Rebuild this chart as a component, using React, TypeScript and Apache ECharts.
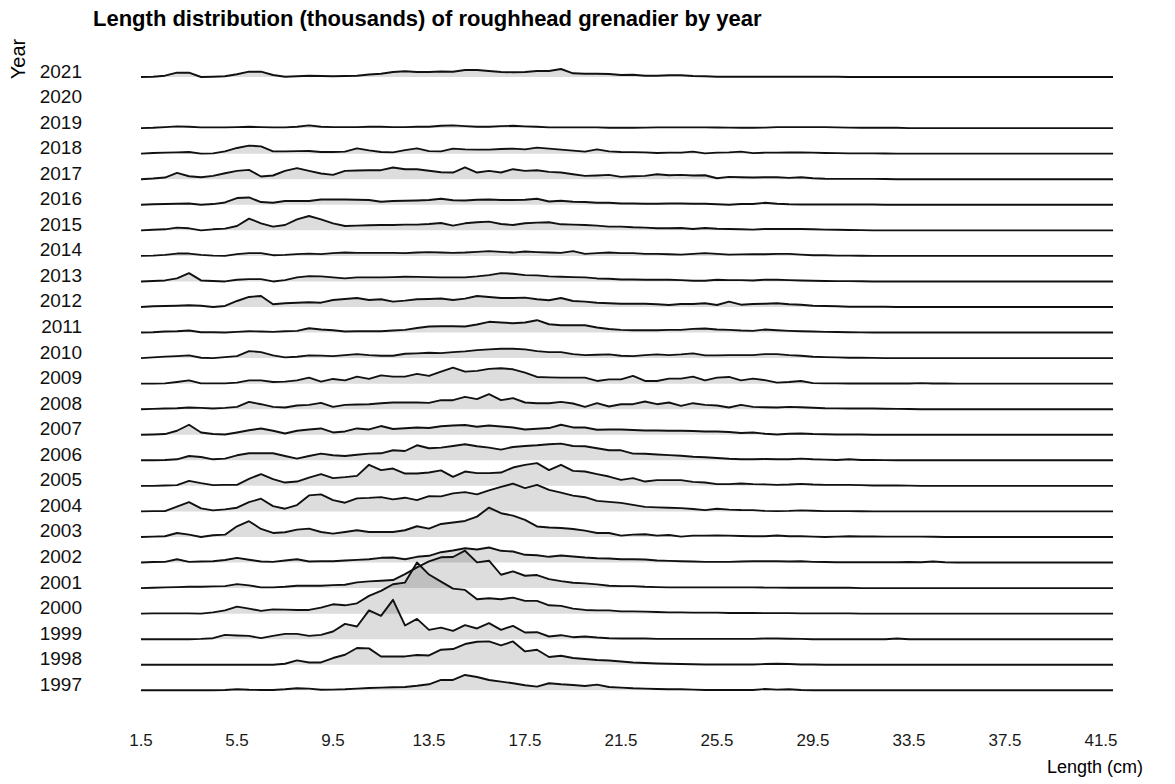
import React, { useEffect, useRef } from 'react';
import * as echarts from 'echarts';

// Length classes (cm), one every 0.5 cm
const LENGTHS = [
  1.5, 2, 2.5, 3, 3.5, 4, 4.5, 5, 5.5, 6, 6.5,
  7, 7.5, 8, 8.5, 9, 9.5, 10, 10.5, 11, 11.5, 12,
  12.5, 13, 13.5, 14, 14.5, 15, 15.5, 16, 16.5, 17, 17.5,
  18, 18.5, 19, 19.5, 20, 20.5, 21, 21.5, 22, 22.5, 23,
  23.5, 24, 24.5, 25, 25.5, 26, 26.5, 27, 27.5, 28, 28.5,
  29, 29.5, 30, 30.5, 31, 31.5, 32, 32.5, 33, 33.5, 34,
  34.5, 35, 35.5, 36, 36.5, 37, 37.5, 38, 38.5, 39, 39.5,
  40, 40.5, 41, 41.5, 42,
];

const YEARS = [
  '1997', '1998', '1999', '2000', '2001', '2002', '2003', '2004', '2005',
  '2006', '2007', '2008', '2009', '2010', '2011', '2012', '2013', '2014',
  '2015', '2016', '2017', '2018', '2019', '2020', '2021',
];

const X_TICKS = [1.5, 5.5, 9.5, 13.5, 17.5, 21.5, 25.5, 29.5, 33.5, 37.5, 41.5];
const X_TICK_LABELS = ['1.5', '5.5', '9.5', '13.5', '17.5', '21.5', '25.5', '29.5', '33.5', '37.5', '41.5'];

// Numbers at length (relative units, read from the ridges)
const Y2021 = [
  0, 0.3, 1.3, 4.3, 4.3, 0, 0.3, 0.7, 2.7, 5.3, 5.3,
  2, 0.3, 0.7, 1.3, 1, 0.7, 1, 1.3, 2.5, 3.3, 5,
  5.7, 5, 5, 5.5, 5.3, 7, 7, 6, 5, 4.7, 5,
  6, 6, 8, 3.7, 3.3, 3.3, 3, 2, 2.3, 1.2, 1.3,
  1.7, 1.7, 1, 0.7, 0.3, 0.3, 0.3, 0.3, 0.3, 0.3, 0.3,
  0.3, 0.3, 0.2, 0.2, 0, 0, 0, 0, 0, 0, 0,
  0, 0, 0, 0, 0, 0, 0, 0, 0, 0, 0,
  0, 0, 0, 0, 0,
];
const Y2019 = [
  0, 0.3, 1, 1.7, 1.3, 0.7, 0.7, 0.7, 1, 1.3, 1,
  0.7, 0.7, 1.3, 2.7, 1.3, 1, 1, 1, 1.3, 1.3, 1,
  1, 1.3, 1.3, 2.3, 2.7, 2, 1.3, 1.3, 2, 2.3, 1.7,
  1.3, 0.7, 0.7, 0.7, 0.7, 0.7, 0.3, 0.3, 0.3, 0.5, 0.7,
  0.7, 0.7, 0.7, 0.7, 0.6, 0.5, 0.4, 0.3, 0.5, 1, 1,
  1, 1, 1, 0.7, 0.5, 0.3, 0.3, 0.3, 0.3, 0, 0,
  0, 0, 0, 0, 0, 0, 0, 0, 0, 0, 0,
  0, 0, 0, 0, 0,
];
const Y2018 = [
  0, 0.7, 1, 1.3, 1.7, 0, 0.3, 2.3, 5.7, 8, 7.3,
  2.3, 2.3, 2.5, 2.7, 1.7, 1.7, 2, 5.3, 3.3, 1.7, 1.3,
  3.5, 5.3, 2.5, 2.3, 5, 4.3, 4, 4, 4.7, 5, 4.3,
  6, 5, 4, 3, 2, 4.3, 2.3, 1.7, 1.5, 1.3, 0.7,
  1, 1, 2, 0.3, 1, 1.3, 2, 0.5, 1, 1, 1.2,
  1.3, 1, 0.7, 0.5, 0.3, 0.3, 0.3, 0.2, 0, 0, 0,
  0, 0, 0, 0, 0, 0, 0, 0, 0, 0, 0,
  0, 0, 0, 0, 0,
];
const Y2017 = [
  0, 0.7, 1.7, 6.3, 3, 2, 3.3, 6, 8.3, 9.3, 2.7,
  3.7, 8.3, 11, 8.3, 5.7, 4.3, 8.3, 8.7, 9, 9, 11.7,
  10, 10, 8.5, 7, 6.7, 11.7, 6.7, 8.3, 6.7, 10, 8.3,
  9, 7.3, 6.7, 5, 3.3, 3.7, 4.3, 2.3, 3, 3.3, 5,
  4, 4.3, 3.7, 4, 1, 2.3, 2, 1.7, 2, 2, 1.3,
  2, 1, 0.5, 0.3, 0.3, 0.3, 0.3, 0.2, 0, 0, 0,
  0, 0, 0, 0, 0, 0, 0, 0, 0, 0, 0,
  0, 0, 0, 0, 0,
];
const Y2016 = [
  0, 0.5, 0.7, 1, 1.3, 0, 0.7, 2.3, 6.7, 7.3, 2.7,
  2, 3.7, 3.7, 3.7, 5.3, 5.3, 5.3, 5, 4.7, 3, 3.7,
  4, 4.3, 4.7, 6, 4.5, 4.3, 5, 5.3, 4.7, 4.7, 5,
  6, 3.3, 4, 3, 2.7, 2, 2, 1.3, 1.3, 1, 1,
  1.3, 1.3, 1, 1, 0.5, 0, 0.7, 0.7, 2, 1, 0.5,
  0.3, 0.3, 0.3, 0.3, 0.3, 0.3, 0.2, 0, 0, 0, 0,
  0, 0, 0, 0, 0, 0, 0, 0, 0, 0, 0,
  0, 0, 0, 0, 0,
];
const Y2015 = [
  0, 0.5, 1, 2.7, 2, 0, 1, 1.7, 4.3, 11.7, 7,
  3.7, 5.3, 11, 14.3, 11, 7, 4.3, 4.7, 5, 5.3, 5.3,
  5.7, 5.7, 6.3, 7.3, 4.7, 7, 8, 8.7, 6.3, 5.3, 7,
  7.7, 8, 6, 5.7, 5.3, 4.7, 3.7, 3.7, 3, 2.7, 2,
  2, 2.3, 1.3, 2.3, 1.5, 1.3, 1, 0.7, 1.3, 1.3, 1.3,
  1.3, 1, 0.7, 0.5, 0.3, 0.2, 0, 0, 0, 0, 0,
  0, 0, 0, 0, 0, 0, 0, 0, 0, 0, 0,
  0, 0, 0, 0, 0,
];
const Y2014 = [
  0, 0.3, 1, 2.3, 2.3, 1, 0.3, 0, 1.7, 2.7, 2.7,
  0.7, 1, 1.7, 2.3, 1.7, 2.7, 3.3, 3, 3, 3, 3,
  2.7, 3.3, 3.7, 3.3, 3, 3.3, 4, 4.7, 4, 3.3, 4.3,
  3.7, 3.3, 3, 4.7, 2, 2.7, 3.3, 2.7, 2.7, 2, 2,
  1.7, 1.3, 2, 2.7, 2, 1.3, 1.5, 1.7, 1.7, 2, 2,
  1.3, 0.7, 0.7, 0.3, 0.3, 0.2, 0, 0, 0, 0, 0,
  0, 0, 0, 0, 0, 0, 0, 0, 0, 0, 0,
  0, 0, 0, 0, 0,
];
const Y2013 = [
  0, 0.5, 1, 3, 8.3, 1, 0.5, 0, 1.7, 2.3, 2.3,
  0, 1.3, 4, 5.3, 5, 4, 3, 4, 4, 4, 4.3,
  4.7, 4.5, 4.3, 4, 4, 4, 5, 6.3, 8.3, 7.7, 6.3,
  6, 5, 4.7, 4.3, 4, 3, 2.7, 2, 2, 1.7, 1.7,
  1.7, 1.3, 0.7, 0.7, 1.7, 1.3, 1.3, 1, 1.7, 1.7, 1.3,
  1, 0.7, 0.5, 0.3, 0.3, 0.2, 0, 0, 0, 0, 0,
  0, 0, 0, 0, 0, 0, 0, 0, 0, 0, 0,
  0, 0, 0, 0, 0,
];
const Y2012 = [
  0, 0.7, 1, 1.3, 1.7, 1.3, 0, 1, 6, 10, 11,
  2.7, 3.7, 4.3, 4.7, 4.3, 7, 8, 9, 7, 7.7, 5.3,
  6.3, 7.7, 8, 8.5, 7, 8.3, 11, 10, 9, 9, 9.3,
  7.7, 6.7, 9, 6, 5.3, 4.3, 3.7, 3.3, 3.3, 3.3, 2.7,
  2, 3, 3, 3.7, 2, 5.3, 2.3, 3, 3.3, 3.7, 2.7,
  2.3, 1.3, 1, 0.7, 0.3, 0.3, 0.3, 0.2, 0, 0, 0,
  0, 0, 0, 0, 0, 0, 0, 0, 0, 0, 0,
  0, 0, 0, 0, 0,
];
const Y2011 = [
  0, 0.3, 1, 1.3, 2, 0.3, 0.3, 0, 0.7, 1.3, 1,
  0.7, 1.3, 1.7, 4.3, 3, 2.3, 1, 1.3, 1.3, 1.3, 2,
  2.7, 4.5, 6, 6.3, 6.3, 6, 8, 10.7, 10, 9.3, 10,
  12.3, 8.3, 7.3, 7.3, 7.3, 5, 3.5, 2.7, 2.3, 2.3, 2.3,
  2.7, 2.7, 3.7, 4, 3, 2.7, 2, 1.7, 3, 2.3, 1.7,
  1.3, 1, 0.7, 0.5, 0.3, 0.2, 0, 0, 0, 0, 0,
  0, 0, 0, 0, 0, 0, 0, 0, 0, 0, 0,
  0, 0, 0, 0, 0,
];
const Y2010 = [
  0, 0.7, 1.5, 2, 2.7, 0.3, 0, 1, 2, 7, 6,
  2.7, 0.7, 1.3, 2.7, 2.5, 2, 3, 4, 3, 2.3, 2.3,
  4.3, 4.7, 5.3, 5, 6, 6.7, 8, 8.7, 9.3, 9.3, 8.7,
  7, 6, 6, 4, 3, 3.3, 3.7, 2.3, 2, 3, 3.7,
  3, 3.7, 4.7, 2.7, 2.7, 3, 3, 3, 4, 4, 3,
  2.3, 1.3, 1, 0.7, 0.3, 0.3, 0.2, 0, 0, 0, 0,
  0, 0, 0, 0, 0, 0, 0, 0, 0, 0, 0,
  0, 0, 0, 0, 0,
];
const Y2009 = [
  0, 0, 0.3, 1.7, 3.3, 0.3, 0.3, 0.3, 1, 3.3, 3.3,
  1.7, 2, 3.3, 6, 2, 4.7, 3.3, 7, 4.7, 8.3, 7,
  7, 9.7, 7.7, 12, 16, 12, 12.7, 14.7, 15.3, 14.3, 11,
  6.7, 6.3, 6, 6, 6, 2.7, 4.3, 4.3, 7.7, 2.7, 2.7,
  5, 5, 7, 3.3, 6, 6.7, 3.3, 5, 3.5, 1, 1.7,
  2.7, 0.5, 0.3, 0.3, 0.2, 0.2, 0.2, 0.2, 0.2, 0.2, 0.5,
  0.2, 0.2, 0, 0, 0, 0, 0, 0, 0, 0, 0,
  0, 0, 0, 0, 0,
];
const Y2008 = [
  0, 0.3, 0.7, 1, 1.7, 1.3, 0.7, 1.3, 2.3, 7.3, 5,
  2.3, 1.7, 3.7, 4.3, 6.3, 2.3, 4.3, 4.7, 5, 6, 6.7,
  6.7, 6.7, 6.3, 9, 9, 12.3, 10, 15, 9, 11, 6.7,
  6, 6, 7.3, 5.7, 2.3, 6, 2.7, 5, 5, 7.7, 5,
  6.7, 3.3, 6, 4.3, 3.7, 1.7, 4.3, 2.3, 2, 1.7, 2.3,
  2, 1.5, 1, 0.8, 0.7, 0.7, 0.7, 0.5, 0.3, 0.2, 0,
  0, 0, 0, 0, 0, 0, 0, 0, 0, 0, 0,
  0, 0, 0, 0, 0,
];
const Y2007 = [
  0, 0.3, 0.7, 4, 10, 2.3, 0.7, 0.3, 2.3, 4.5, 6.3,
  4, 1.3, 4, 5.3, 6.3, 2.3, 3.3, 6.3, 5.3, 8.7, 5.7,
  6.5, 7.3, 6.7, 8.5, 9.3, 9.7, 8, 9.3, 8.3, 7.3, 5.3,
  6, 6.7, 10, 7.3, 7.3, 5, 5.3, 5.3, 4.7, 4.3, 4.3,
  4, 4, 3.7, 3.3, 3.3, 2.7, 1.7, 2.3, 1, 0.3, 1,
  1.3, 0.7, 0.5, 0.3, 0.3, 0.2, 0, 0, 0, 0, 0,
  0, 0, 0, 0, 0, 0, 0, 0, 0, 0, 0,
  0, 0, 0, 0, 0,
];
const Y2006 = [
  0, 0, 0.3, 1, 4.3, 3.3, 1, 1.7, 5, 7, 7,
  7, 4.3, 1.7, 4.3, 6.7, 5, 4.3, 5.5, 6.7, 7, 10,
  9.3, 15, 12, 12.7, 14.3, 16, 14, 12.7, 10.7, 13.3, 14.3,
  15, 16, 16.7, 14.3, 14, 12, 10, 10, 6.7, 6.5, 5.8,
  5.2, 4.5, 3.6, 3.1, 2.3, 1.5, 1, 1, 1.3, 1, 1,
  1.7, 1, 0.7, 0.3, 1, 0.3, 0.3, 0.2, 0, 0, 0,
  0, 0, 0, 0, 0, 0, 0, 0, 0, 0, 0,
  0, 0, 0, 0, 0,
];
const Y2005 = [
  0, 0, 0.3, 0.7, 5, 2.7, 0.7, 1, 1, 7, 11.7,
  6.7, 3.3, 4.3, 8.3, 11.7, 7.7, 8.7, 10, 21, 15.7, 17.3,
  12.3, 12.3, 13.3, 15.5, 9, 14.3, 12.7, 12.7, 13.3, 18.3, 21,
  22.7, 15.7, 21, 15, 14.3, 11.7, 9.3, 6, 7.7, 4.3, 5.7,
  5.7, 5.7, 4, 3.3, 1.7, 1.7, 2.3, 1.7, 1.5, 1, 1.3,
  2, 1.3, 1, 1, 1, 0.7, 0.3, 0.3, 0.3, 0.2, 0,
  0, 0, 0, 0, 0, 0, 0, 0, 0, 0, 0,
  0, 0, 0, 0, 0,
];
const Y2004 = [
  0, 0.3, 0.3, 4.8, 9.3, 3, 1, 2, 3.7, 9.3, 12.7,
  5.3, 2.7, 6.3, 16, 17, 11.3, 8.7, 13, 13.5, 14.3, 12,
  13.7, 11.3, 15.3, 15, 18, 19.3, 17, 21, 24.5, 27.7, 23.3,
  26.5, 21.5, 18.7, 15.8, 14.2, 10.5, 9.5, 8.5, 6.5, 4.5, 4,
  3.7, 3.3, 2.4, 1.3, 2.7, 1.8, 1.4, 1.3, 0.5, 0.3, 0.5,
  1, 0.7, 0.3, 0.3, 0.3, 0.2, 0, 0, 0, 0, 0,
  0, 0, 0, 0, 0, 0, 0, 0, 0, 0, 0,
  0, 0, 0, 0, 0,
];
const Y2003 = [
  0, 0.3, 0.7, 4, 2.3, 0, 1.7, 2.3, 10.7, 15.7, 8,
  4, 4.7, 7.3, 8.3, 5, 3.3, 5, 6.7, 5, 5, 5,
  6.7, 10.7, 8.3, 13, 14.5, 16, 20.3, 29.3, 23.7, 21.3, 17,
  10.5, 9.5, 9, 8, 6.3, 4, 4, 1.3, 2.3, 2.7, 1.3,
  2, 0.3, 1.3, 1.3, 1.5, 1.3, 1, 0.7, 0.7, 1.5, 0.7,
  0.7, 0.3, 0, 0.3, 0.7, 0.5, 0.5, 0.3, 0.3, 0.3, 0.3,
  0.2, 0, 0, 0, 0, 0, 0, 0, 0, 0, 0,
  0, 0, 0, 0, 0,
];
const Y2002 = [
  0, 0.5, 0.7, 3.3, 0.7, 1, 1.3, 2.5, 4.7, 2.8, 1,
  0.7, 2, 3.3, 1, 1.3, 1.3, 2, 2.7, 3.3, 4.7, 5,
  3.3, 5.7, 6.7, 10.3, 12, 14.3, 13, 15, 11.7, 11, 7.7,
  7.3, 5.7, 7, 6, 5, 4.3, 4, 3.3, 3.3, 3, 2,
  1.7, 1.3, 1, 0.7, 0.7, 0.7, 1, 1.3, 1.3, 1.3, 1,
  1.3, 0.7, 0.5, 0.3, 0.3, 0.3, 0.3, 0.3, 0.3, 0.5, 0.3,
  1, 0.3, 0, 0, 0, 0, 0, 0, 0, 0, 0,
  0, 0, 0, 0, 0,
];
const Y2001 = [
  0, 0.3, 0.7, 1, 1.3, 1.3, 1.7, 2, 4, 2.7, 0.7,
  0.7, 1.3, 2.3, 2.3, 2.3, 3, 3.3, 5.7, 6.7, 7.3, 8,
  14, 20.7, 26.7, 30.7, 31, 37.3, 25.7, 27.3, 13.3, 16.7, 12.3,
  13, 9, 7, 5.3, 4.7, 3.7, 2.3, 2, 2, 1.3, 1,
  0.7, 0.7, 0.7, 0.7, 0.7, 0.7, 0.7, 0.7, 0.5, 0.5, 0.3,
  0.3, 0.3, 0.3, 0.3, 0.3, 0, 0, 0, 0, 0, 0,
  0, 0, 0, 0, 0, 0, 0, 0, 0, 0, 0,
  0, 0, 0, 0, 0,
];
const Y2000 = [
  0, 0.3, 0.3, 0.3, 0.3, 0, 1.3, 3.3, 7, 5, 2.7,
  4.3, 4, 3.7, 3.7, 6, 9.3, 8.3, 10.3, 17.7, 22.7, 29.3,
  31, 51, 39, 32, 25, 23.7, 14.3, 15.3, 14.3, 16, 12.7,
  12.7, 8.3, 7.7, 5, 3.7, 3.3, 3.3, 2.3, 2.3, 2, 1.7,
  1.3, 1.3, 1, 1, 1, 0.7, 0.7, 0.7, 0.5, 0.5, 0.5,
  0.3, 0.3, 0.3, 0.3, 0.3, 0, 0, 0, 0, 0, 0,
  0, 0, 0, 0, 0, 0, 0, 0, 0, 0, 0,
  0, 0, 0, 0, 0,
];
const Y1999 = [
  0, 0, 0, 0, 0, 0.3, 1, 4.3, 3.7, 3.3, 1,
  3.3, 5.3, 5.3, 3.3, 4.3, 7.7, 15.3, 12.7, 28.7, 23.3, 39.3,
  13.7, 20.3, 9.3, 11.5, 8.3, 14, 10.7, 16, 9.3, 13.3, 6.7,
  7, 2.7, 4, 2, 2.7, 1.7, 1, 0.7, 0.7, 0.7, 0.3,
  0.3, 0.3, 0.3, 0.3, 0.3, 0.3, 0.3, 0.3, 0.7, 0.7, 0.5,
  0.3, 0, 0, 0, 0, 0, 0, 0, 0.7, 0, 0,
  0, 0, 0, 0, 0, 0, 0, 0, 0, 0, 0,
  0, 0, 0, 0, 0,
];
const Y1998 = [
  0, 0, 0, 0, 0, 0, 0, 0, 0, 0, 0,
  0, 1, 4.3, 2.3, 2.3, 6.7, 10, 16.7, 16.3, 8.3, 8.3,
  8.3, 9.7, 9.3, 15, 15.7, 20.7, 23, 23.3, 19.3, 23.3, 13.3,
  15, 7.7, 9, 6.7, 5.7, 4.7, 4.3, 3.3, 2.3, 1.7, 1.3,
  1, 0.7, 0.5, 0.3, 0.3, 0.2, 0.2, 0.3, 0.7, 1, 0.7,
  0.3, 0.2, 0, 0, 0, 0, 0, 0, 0, 0, 0,
  0, 0, 0, 0, 0, 0, 0, 0, 0, 0, 0,
  0, 0, 0, 0, 0,
];
const Y1997 = [
  0, 0, 0, 0, 0, 0, 0, 0.3, 1, 0.5, 0.3,
  0.3, 1, 2, 1.7, 0.5, 0.7, 1, 1.7, 2.3, 2.7, 3,
  3.3, 4.5, 6, 10.3, 10.3, 15.3, 13.3, 10.3, 8.7, 7, 5,
  3.7, 7, 6, 5.3, 4.3, 5.7, 3.3, 2.7, 2, 1.7, 1.3,
  1, 1, 0.7, 0.3, 0.3, 0.3, 0.3, 0.3, 1.3, 0.7, 1,
  0.3, 0, 0, 0, 0, 0, 0, 0, 0, 0, 0,
  0, 0, 0, 0, 0, 0, 0, 0, 0, 0, 0,
  0, 0, 0, 0, 0,
];

// 2020 has no survey data
const VALUES_BY_YEAR: (number[] | null)[] = [
  Y1997, Y1998, Y1999, Y2000, Y2001, Y2002, Y2003, Y2004, Y2005,
  Y2006, Y2007, Y2008, Y2009, Y2010, Y2011, Y2012, Y2013, Y2014,
  Y2015, Y2016, Y2017, Y2018, Y2019, null, Y2021,
];

const HEIGHT_SCALE = 1 / 25.5; // ridge value units per row spacing
const FONT = '"Liberation Sans", Arial, Helvetica, sans-serif';

export default function App() {
  const ref = useRef<HTMLDivElement>(null);

  useEffect(() => {
    if (!ref.current) return;
    const chart = echarts.init(ref.current, null, { renderer: 'svg' });

    const series: any[] = [];
    for (let k = YEARS.length - 1; k >= 0; k--) {
      const vals = VALUES_BY_YEAR[k];
      if (!vals) continue;
      series.push({
        type: 'line',
        name: YEARS[k],
        data: LENGTHS.map((x, i) => [x, k + vals[i] * HEIGHT_SCALE]),
        symbol: 'none',
        showSymbol: false,
        clip: false,
        silent: true,
        smooth: false,
        lineStyle: { color: '#111111', width: 1.9, join: 'round' },
        areaStyle: { origin: k, color: 'rgba(0,0,0,0.19)' },
      });
    }

    chart.setOption({
      animation: false,
      backgroundColor: '#ffffff',
      textStyle: { fontFamily: FONT },
      title: {
        text: 'Length distribution (thousands) of roughhead grenadier by year',
        left: 93,
        top: 7,
        padding: 0,
        textStyle: { fontFamily: FONT, fontSize: 22, fontWeight: 'bold', color: '#000' },
      },
      grid: { left: 141, top: 77, width: 984, height: 613.3, containLabel: false },
      xAxis: {
        type: 'value',
        min: 1.5,
        max: 42.5,
        interval: 4,
        axisLine: { show: false },
        axisTick: { show: false },
        splitLine: { show: false },
        axisLabel: {
          margin: 42,
          fontSize: 17,
          color: '#1a1a1a',
          fontFamily: FONT,
          showMaxLabel: false,
          formatter: (v: number) => {
            const idx = X_TICKS.findIndex((t) => Math.abs(t - v) < 1e-6);
            return idx >= 0 ? X_TICK_LABELS[idx] : '';
          },
        },
      },
      yAxis: {
        type: 'value',
        min: 0,
        max: 24,
        interval: 1,
        axisLine: { show: false },
        axisTick: { show: false },
        splitLine: { show: false },
        axisLabel: {
          margin: 59,
          fontSize: 19,
          color: '#111',
          fontFamily: FONT,
          verticalAlign: 'bottom',
          lineHeight: 12,
          formatter: (v: number) => YEARS[Math.round(v)] ?? '',
        },
      },
      graphic: [
        {
          type: 'text',
          x: 18,
          y: 59,
          rotation: Math.PI / 2,
          style: {
            text: 'Year',
            fontSize: 20,
            fontFamily: FONT,
            fill: '#000',
            align: 'center',
            verticalAlign: 'middle',
          },
        },
        {
          type: 'text',
          x: 1143,
          y: 767,
          style: {
            text: 'Length (cm)',
            fontSize: 18,
            fontFamily: FONT,
            fill: '#000',
            align: 'right',
            verticalAlign: 'middle',
          },
        },
      ],
      series,
    });

    return () => chart.dispose();
  }, []);

  return (
    <div
      ref={ref}
      style={{ position: 'fixed', left: 0, top: 0, width: 1175, height: 784, background: '#fff' }}
    />
  );
}
